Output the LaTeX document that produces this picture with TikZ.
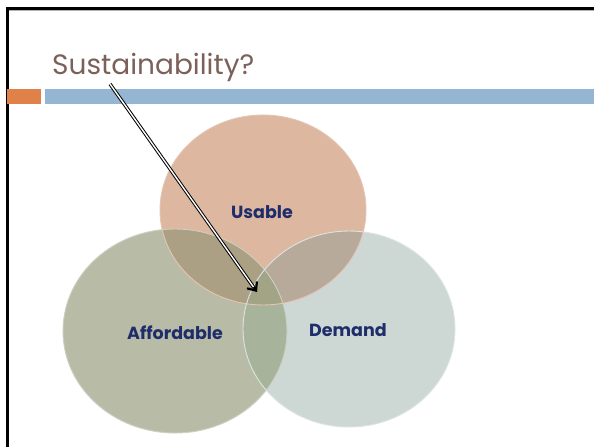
\documentclass[tikz,border=0pt]{standalone}
\usepackage{fontspec}
\setmainfont{Poppins}
\usetikzlibrary{arrows.meta,calc}
\definecolor{ucol}{HTML}{DDB7A0}
\definecolor{acol}{HTML}{B8BCA7}
\definecolor{dcol}{HTML}{CDD8D5}
\definecolor{uacol}{HTML}{ABA084}
\definecolor{udcol}{HTML}{B8AA9B}
\definecolor{adcol}{HTML}{A8B39B}
\definecolor{uadcol}{HTML}{A3A386}
\definecolor{titlecol}{HTML}{7B6159}
\definecolor{labcol}{HTML}{1F2D6B}
\definecolor{barorange}{HTML}{DF8148}
\definecolor{barblue}{HTML}{94B6D2}
\newcommand\upath{(263,210) ellipse [x radius=103pt, y radius=95pt]}
\newcommand\apath{(175,331) ellipse [x radius=112pt, y radius=102pt]}
\newcommand\dpath{(349,329) ellipse [x radius=106pt, y radius=98pt]}
\tikzset{
  lab/.style={text=labcol, font=\fontsize{17.5}{20}\selectfont\bfseries, inner sep=0pt},
  rim/.style={line width=0.9pt},
  shaft/.style={draw=black, double=white, double distance=1.4pt, line width=1pt},
  barbtip/.style={line width=2.2pt, black, -{Straight Barb[length=7pt,width=12pt]}}
}
\begin{document}
\begin{tikzpicture}[x=1pt,y=-1pt]
\useasboundingbox (0,0) rectangle (594,447);
\fill[white] (0,0) rectangle (594,447);
% frame
\draw[gray!60, line width=1.2pt] (9,10.5) -- (594,10.5);
\draw[black, line width=3pt] (7,8) -- (594,8);
\draw[black, line width=3pt] (7,6.5) -- (7,447);
% bars
\fill[barorange] (7,89) rectangle (41,104);
\fill[barblue] (45,89) rectangle (594,104);
% circles
\fill[ucol] \upath;
\fill[acol] \apath;
\fill[dcol] \dpath;
\begin{scope}\clip \upath; \fill[uacol] \apath; \end{scope}
\begin{scope}\clip \upath; \fill[udcol] \dpath; \end{scope}
\begin{scope}\clip \apath; \fill[adcol] \dpath; \end{scope}
\begin{scope}\clip \upath; \clip \apath; \fill[uadcol] \dpath; \end{scope}
\draw[rim, ucol!80!white] \upath;
\draw[rim, acol!70!white] \apath;
\draw[rim, dcol!70!white] \dpath;
% labels
\node[lab] (u) at (262,212) {Usable};
\node[lab] (a) at (175,333) {Affordable};
\node[lab] (d) at (348,330) {Demand};
% title
\node[anchor=base west, text=titlecol, font=\fontsize{28}{32}\selectfont, inner sep=0pt] (title) at (52,74) {Sustainability?};
\coordinate (arrowstart) at (110,84);
\coordinate (arrowtip) at (257,292);
\draw[shaft] (arrowstart) -- ($(arrowtip)!3pt!(arrowstart)$);
\draw[barbtip] ($(arrowtip)!6pt!(arrowstart)$) -- (arrowtip);
\end{tikzpicture}
\end{document}
